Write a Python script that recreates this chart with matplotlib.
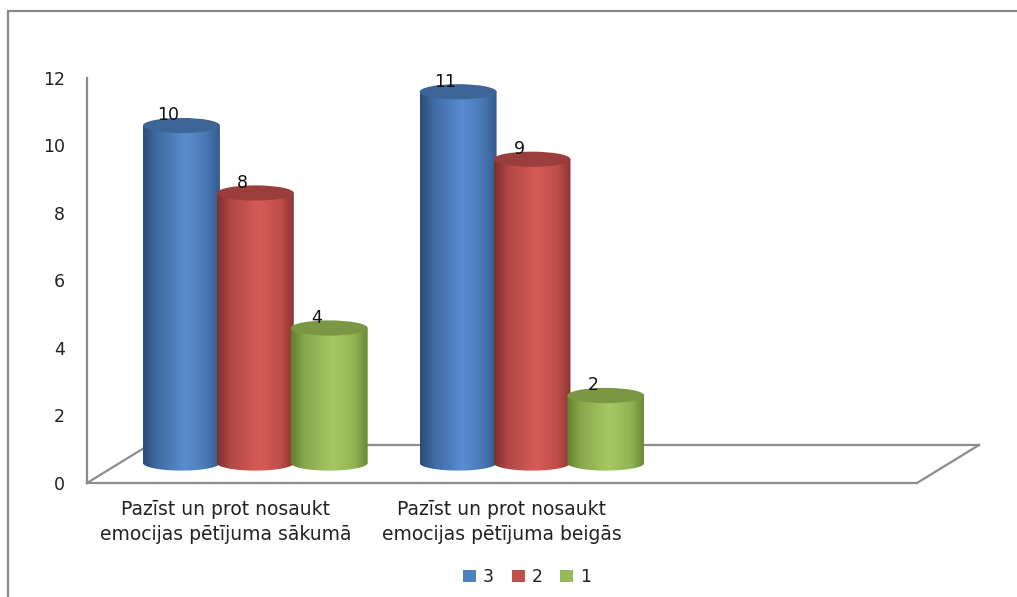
import numpy as np
import matplotlib
matplotlib.use("Agg")
import matplotlib.pyplot as plt
from matplotlib.patches import Ellipse, PathPatch, Rectangle
from matplotlib.path import Path
from matplotlib.colors import LinearSegmentedColormap
from matplotlib.lines import Line2D
import matplotlib.transforms as mtransforms

# ---------------- data ----------------
categories = ["Pazīst un prot nosaukt\nemocijas pētījuma sākumā",
              "Pazīst un prot nosaukt\nemocijas pētījuma beigās",
              ""]
series_names = ["3", "2", "1"]
values_3 = [10, 11]
values_2 = [8, 9]
values_1 = [4, 2]
series_values = [values_3, values_2, values_1]
y_ticks = [0, 2, 4, 6, 8, 10, 12]

# ---------------- styles ----------------
base_colors = ["#4f81bd", "#c0504d", "#9bbb59"]
grad_colors = [
    ["#2b4b78", "#3f6aa3", "#5a8cd0", "#4a78b4", "#335a8c"],
    ["#7f2e2c", "#b04845", "#d65b58", "#c04e4b", "#8a3432"],
    ["#62802e", "#89a94c", "#a6c863", "#93b455", "#6a8a34"],
]
top_colors = ["#3d6598", "#9a3e3c", "#7a9843"]
grey = "#8c8c8c"

W, H = 1017, 597
fig = plt.figure(figsize=(W / 100, H / 100), dpi=100)
fig.patch.set_facecolor("white")

# chart-area border
fig.patches.append(Rectangle((8 / W, -0.02), 1.05, 1 - 11 / H + 0.02,
                             transform=fig.transFigure, fill=False,
                             edgecolor="#888888", linewidth=1.6))

ax = fig.add_axes([87 / W, (H - 483) / H, (917 - 87) / W, (483 - 78) / H])
ax.set_xlim(0, len(categories))
ax.set_ylim(0, 12)
ax.set_autoscale_on(False)
for s in ax.spines.values():
    s.set_visible(False)
ax.patch.set_visible(False)

# depth offsets (pixels)
back = mtransforms.offset_copy(ax.transData, fig=fig, x=62, y=38, units="dots")
mid = mtransforms.offset_copy(ax.transData, fig=fig, x=30, y=20, units="dots")

# floor
ncat = len(categories)
ax.plot([0, ncat], [0, 0], color=grey, lw=1.6, zorder=1, clip_on=False)
ax.plot([0, ncat], [0, 0], color=grey, lw=1.6, transform=back, zorder=1, clip_on=False)
for xc in [0, ncat]:
    p0 = ax.transData.transform((xc, 0))
    p1 = back.transform((xc, 0))
    ax.add_line(Line2D([p0[0], p1[0]], [p0[1], p1[1]], transform=None,
                       color=grey, lw=1.6, zorder=1, clip_on=False))
# value axis line
ax.plot([0, 0], [0, 12], color=grey, lw=1.6, zorder=1, clip_on=False)

# ticks
ax.set_yticks(y_ticks)
ax.set_yticklabels([str(t) for t in y_ticks])
ax.tick_params(axis="y", length=0, pad=16, labelsize=12.5, labelcolor="#222222")
ax.set_xticks(np.arange(ncat) + 0.5)
ax.set_xticklabels(categories, fontsize=13.5, linespacing=1.45,
                   family=["Liberation Sans Narrow", "DejaVu Sans"],
                   color="#222222")
ax.tick_params(axis="x", length=0, pad=12)

# cylinders
bar_w = 0.278
step = 0.267
ell_h = 0.45
theta = np.linspace(np.pi, 2 * np.pi, 60)

for si, vals in enumerate(series_values):
    cmap = LinearSegmentedColormap.from_list(
        "g%d" % si, list(zip([0, 0.18, 0.55, 0.82, 1.0], grad_colors[si])))
    for ci, v in enumerate(vals):
        xc = ci + 0.5 + (si - 1) * step
        xl, xr = xc - bar_w / 2, xc + bar_w / 2
        arc_x = xc + (bar_w / 2) * np.cos(theta)
        arc_y = 0 + (ell_h / 2) * np.sin(theta)
        verts = [(xl, v), (xl, 0)] + list(zip(arc_x, arc_y)) + [(xr, v), (xl, v)]
        codes = [Path.MOVETO] + [Path.LINETO] * (len(verts) - 2) + [Path.CLOSEPOLY]
        body = PathPatch(Path(verts, codes), transform=mid, facecolor="none",
                         edgecolor="none", zorder=3 + si * 0.1)
        ax.add_patch(body)
        grad = np.linspace(0, 1, 256).reshape(1, -1)
        im = ax.imshow(grad, cmap=cmap, aspect="auto",
                       extent=(xl, xr, -ell_h, v + ell_h),
                       transform=mid, zorder=3 + si * 0.1, interpolation="bilinear")
        im.set_clip_path(body)
        top = Ellipse((xc, v), bar_w, ell_h, transform=mid,
                      facecolor=top_colors[si], edgecolor="none",
                      zorder=3.05 + si * 0.1)
        ax.add_patch(top)
        lab = mtransforms.offset_copy(ax.transData, fig=fig, x=17, y=25, units="dots")
        ax.text(xc, v, str(v), transform=lab, ha="center", va="baseline",
                fontsize=12.5, color="#111111", zorder=5)

ax.set_xlim(0, ncat)
ax.set_ylim(0, 12)

# legend
handles = [Rectangle((0, 0), 1, 1, facecolor=c, edgecolor="none") for c in base_colors]
fig.legend(handles, series_names, loc="center", bbox_to_anchor=(527 / W, 1 - 577 / H),
           ncol=3, frameon=False, fontsize=12.5, handlelength=0.75, handleheight=0.75,
           handletextpad=0.4, columnspacing=1.0, labelcolor="#222222")

fig.savefig("out.png", dpi=100, facecolor="white")
